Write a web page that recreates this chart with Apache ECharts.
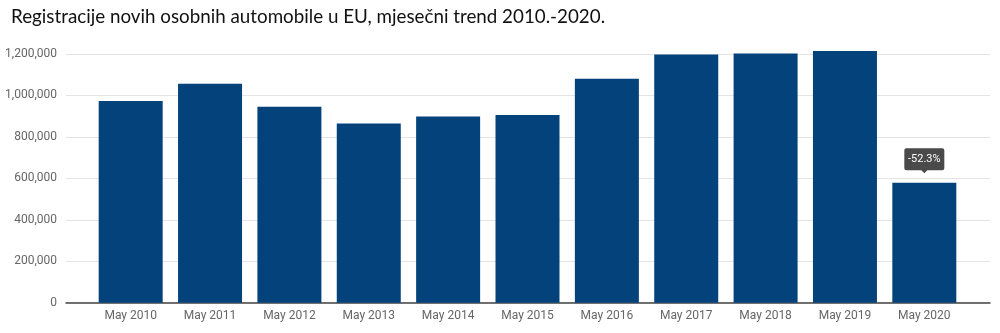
<!DOCTYPE html>
<html>
<head>
<meta charset="utf-8">
<script src="https://cdn.jsdelivr.net/npm/echarts@6/dist/echarts.min.js"></script>
<style>
html,body{margin:0;padding:0;background:#fff;}
#chart{width:1000px;height:333px;}
</style>
</head>
<body>
<div id="chart"></div>
<script>
const titleText = 'Registracije novih osobnih automobile u EU, mjesečni trend 2010.-2020.';
const categories = ['May 2010','May 2011','May 2012','May 2013','May 2014','May 2015','May 2016','May 2017','May 2018','May 2019','May 2020'];
const registrations = [973000, 1057000, 945000, 865000, 898000, 906000, 1081000, 1197000, 1203000, 1214000, 579000];
const yTicks = [0, 200000, 400000, 600000, 800000, 1000000, 1200000];

const last = registrations[registrations.length - 1];
const prev = registrations[registrations.length - 2];
const changeLabel = ((last / prev - 1) * 100).toFixed(1) + '%';

const chart = echarts.init(document.getElementById('chart'), null, {renderer: 'canvas'});
const TOP = 54, BOTTOM = 333 - 302.7;
const fmt = v => v.toLocaleString('en-US');

chart.setOption({
  animation: false,
  backgroundColor: '#ffffff',
  title: {
    text: titleText, left: 6, top: 2,
    textStyle: {fontFamily: 'Lato', fontSize: 18.8, fontWeight: 'normal', color: '#111'}
  },
  grid: [
    {left: 66, right: 10, top: TOP, bottom: BOTTOM},
    {left: 91, right: 36, top: TOP, bottom: BOTTOM}
  ],
  xAxis: [
    {gridIndex: 0, type: 'category', data: [''], axisLine: {show: true, lineStyle: {color: '#444', width: 1.5}},
     axisTick: {show: false}, axisLabel: {show: false}},
    {gridIndex: 1, type: 'category', data: categories, axisLine: {show: false}, axisTick: {show: false},
     axisLabel: {color: '#666', fontFamily: 'Roboto', fontSize: 12, margin: 7}}
  ],
  yAxis: [
    {gridIndex: 0, type: 'value', min: yTicks[0], max: yTicks[yTicks.length-1], interval: yTicks[1]-yTicks[0],
     axisLine: {show: false}, axisTick: {show: false},
     axisLabel: {color: '#666', fontFamily: 'Roboto', fontSize: 12, margin: 9, formatter: fmt},
     splitLine: {lineStyle: {color: '#e4e4e4', width: 1}}},
    {gridIndex: 1, type: 'value', min: yTicks[0], max: yTicks[yTicks.length-1], interval: yTicks[1]-yTicks[0],
     show: false, splitLine: {show: false}}
  ],
  series: [{
    type: 'bar', xAxisIndex: 1, yAxisIndex: 1,
    data: registrations, barWidth: 64, clip: false,
    itemStyle: {color: '#03427a'},
    markPoint: {
      symbol: 'path://M2,0 H38 Q40,0 40,2 V20 Q40,22 38,22 H23 L20,25 L17,22 H2 Q0,22 0,20 V2 Q0,0 2,0 Z',
      symbolSize: [40, 25],
      symbolOffset: [0, -22],
      itemStyle: {color: '#4a4a4a'},
      label: {show: true, color: '#fff', fontFamily: 'Roboto', fontSize: 11, offset: [0, -1.5], formatter: changeLabel},
      data: [{coord: [categories.length - 1, last], value: changeLabel}]
    }
  }]
});
</script>
</body>
</html>
